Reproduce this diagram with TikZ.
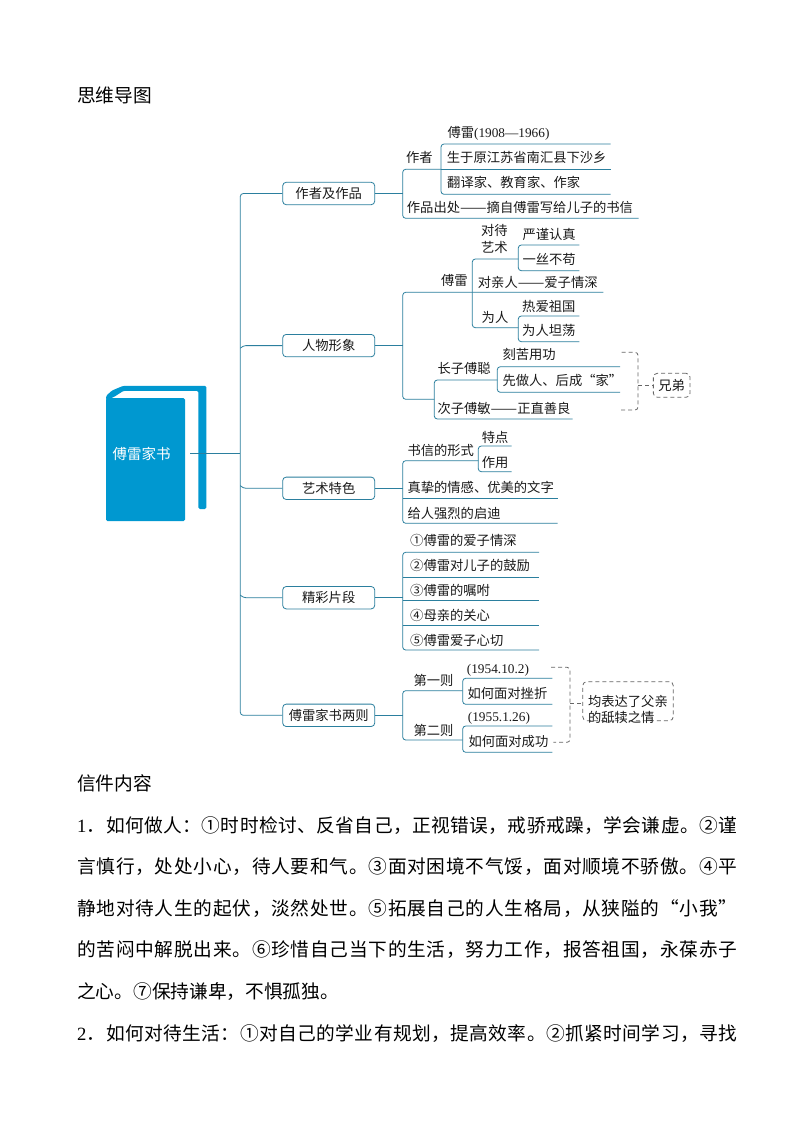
\documentclass[tikz,border=0pt]{standalone}
\usepackage{fontspec}
\setmainfont{Noto Sans CJK SC}
\newfontfamily\latf{Liberation Serif}
\definecolor{lnc}{HTML}{2B7F9E}
\definecolor{bookc}{HTML}{0098D0}
\definecolor{dashc}{HTML}{666666}
\definecolor{txtc}{HTML}{1A1A1A}
\def\dgone{\mbox{\latf 1}}
\def\dgtwo{\mbox{\latf 2}}
\newcommand\longdash{\resizebox{26.6pt}{\height}{——}}
\makeatletter
\newcommand\spreadline[1]{\makebox[660pt][s]{\@tfor\spx:=#1\do{\spx\hfil}\unskip}}
\makeatother
\tikzset{
  conn/.style={draw=lnc,line width=0.8pt,rounded corners=3pt},
  branchbox/.style={draw=lnc,line width=0.8pt,rounded corners=3.5pt,fill=white,minimum width=92pt,minimum height=22.4pt,inner sep=0pt,text=txtc,font=\fontsize{13.3}{16}\selectfont},
  lbl/.style={anchor=west,inner sep=0pt,text=txtc,text height=11.5pt,text depth=1.5pt,font=\fontsize{13.3}{16}\selectfont},
  clbl/.style={lbl,anchor=center},
  dashl/.style={draw=dashc,line width=0.8pt,dashed,dash pattern=on 4pt off 3pt,rounded corners=3pt},
  dashbox/.style={dashl,rounded corners=4pt,fill=white,inner sep=0pt,text=txtc,font=\fontsize{13.3}{16}\selectfont},
  body/.style={anchor=west,inner sep=0pt,text=black,text height=16pt,text depth=2pt,font=\fontsize{18.7}{22}\selectfont},
}
\begin{document}
\begin{tikzpicture}[x=1pt,y=-1pt]
\useasboundingbox (0,0) rectangle (794,1123);
\fill[white] (0,0) rectangle (794,1123);
\node[body] (title) at (77,96) {思维导图};

% book
\fill[bookc,rounded corners=1.5pt] (106,400) -- (106,396) -- (112,390.5) -- (123.3,385.8) -- (206.3,385.8) -- (206.3,509) -- (198.3,509) -- (198.3,390.8) -- (123.5,390.8) -- (114,397) -- cycle;
\fill[bookc,rounded corners=1.5pt] (106,398.2) -- (185,398.2) -- (185,521) -- (106,521) -- cycle;
\node[inner sep=0pt,text=white,font=\fontsize{14.5}{17}\selectfont] (book) at (141.7,454) {傅雷家书};
\coordinate (bookend) at (190,453.3);

% branch boxes
\node[branchbox] (b1) at (328.7,193.5) {作者及作品};
\node[branchbox] (b2) at (328.7,345.6) {人物形象};
\node[branchbox] (b3) at (328.7,488.3) {艺术特色};
\node[branchbox] (b4) at (328.7,597.7) {精彩片段};
\node[branchbox] (b5) at (328.7,715.3) {傅雷家书两则};

% trunk
\coordinate (tr) at (240.3,453.3);
\draw[conn] (bookend) -- (tr);
\draw[conn] (b1.west) -- (240.3,193.5) -- (240.3,715.3) -- (b5.west);
\draw[conn] (b2.west) -- (243,345.6) -- (240.3,348.3);
\draw[conn] (b3.west) -- (243,488.3) -- (240.3,485.6);
\draw[conn] (b4.west) -- (243,597.7) -- (240.3,595);

% branch 1
\draw[conn] (b1.east) -- (402.7,193.5);
\draw[conn] (441,169.3) -- (402.7,169.3) -- (402.7,218.3) -- (638.7,218.3);
\draw[conn] (610.7,144) -- (441,144) -- (441,194.3) -- (610.7,194.3);
\draw[conn] (441,169.3) -- (610.7,169.3);
\node[lbl] (n1a) at (447.3,132.7) {傅雷{\latf (1908—1966)}};
\node[clbl] (n1) at (419.3,157.7) {作者};
\node[lbl] (n1b) at (446.7,157.7) {生于原江苏省南汇县下沙乡};
\node[lbl] (n1c) at (447,182.3) {翻译家、教育家、作家};
\node[lbl] (n1d) at (406.7,207.3) {作品出处\longdash 摘自傅雷写给儿子的书信};

% branch 2
\draw[conn] (b2.east) -- (402.7,345.6);
\draw[conn] (603.3,292.3) -- (402.7,292.3) -- (402.7,399.3) -- (434.3,399.3);
\draw[conn] (518.3,259) -- (472.3,259) -- (472.3,327.7) -- (518.3,327.7);
\draw[conn] (579.3,245) -- (518.3,245) -- (518.3,270.7) -- (579.3,270.7);
\draw[conn] (579.3,316) -- (518.3,316) -- (518.3,341.7) -- (579.3,341.7);
\draw[conn] (497.3,380) -- (434.3,380) -- (434.3,419) -- (572.7,419);
\draw[conn] (620,366.7) -- (497.3,366.7) -- (497.3,392.3) -- (620,392.3);
\node[clbl] (n2a) at (494.3,230.7) {对待};
\node[clbl] (n2b) at (494.3,247.3) {艺术};
\node[clbl] (n2c) at (454.3,280.7) {傅雷};
\node[lbl] (n2d) at (477.7,282.7) {对亲人\longdash 爱子情深};
\node[lbl] (n2e) at (522.3,235) {严谨认真};
\node[lbl] (n2f) at (522.3,259.3) {一丝不苟};
\node[clbl] (n2g) at (495,317.7) {为人};
\node[lbl] (n2h) at (522,306) {热爱祖国};
\node[lbl] (n2i) at (522,330.7) {为人坦荡};
\node[lbl] (n2j) at (437.3,368.3) {长子傅聪};
\node[lbl] (n2k) at (502.3,354.3) {刻苦用功};
\node[lbl] (n2l) at (502.3,380) {先做人、后成“家”};
\node[lbl] (n2m) at (437.3,408.3) {次子傅敏\longdash 正直善良};
\node[dashbox,minimum width=36.7pt,minimum height=24pt] (xd) at (671.7,385.3) {兄弟};
\draw[dashl] (621.7,352.3) -- (638,352.3) -- (638,410) -- (620,410);
\draw[dashl] (638,385.3) -- (xd.west);

% branch 3
\draw[conn] (b3.east) -- (402.7,488.3);
\draw[conn] (478.3,460.7) -- (402.7,460.7) -- (402.7,523.3) -- (557.7,523.3);
\draw[conn] (402.7,498.3) -- (557.7,498.3);
\draw[conn] (511.7,446) -- (478.3,446) -- (478.3,471.7) -- (511.7,471.7);
\node[lbl] (n3a) at (407.3,450) {书信的形式};
\node[lbl] (n3b) at (481.7,437.3) {特点};
\node[lbl] (n3c) at (481.7,462.3) {作用};
\node[lbl] (n3d) at (407.3,487.7) {真挚的情感、优美的文字};
\node[lbl] (n3e) at (407.3,513.3) {给人强烈的启迪};

% branch 4
\draw[conn] (b4.east) -- (402.7,597.7);
\draw[conn] (539,552.3) -- (402.7,552.3) -- (402.7,650) -- (539,650);
\draw[conn] (402.7,577.3) -- (539,577.3);
\draw[conn] (402.7,600) -- (539,600);
\draw[conn] (402.7,625.7) -- (539,625.7);
\node[lbl] (n4a) at (410,540.7) {①傅雷的爱子情深};
\node[lbl] (n4b) at (410,565.3) {②傅雷对儿子的鼓励};
\node[lbl] (n4c) at (410,590.7) {③傅雷的嘱咐};
\node[lbl] (n4d) at (410,615.7) {④母亲的关心};
\node[lbl] (n4e) at (410,640) {⑤傅雷爱子心切};

% branch 5
\draw[conn] (b5.east) -- (402.7,715.3);
\draw[conn] (462.7,690.7) -- (402.7,690.7) -- (402.7,740) -- (462.7,740);
\draw[conn] (552.3,678.3) -- (462.7,678.3) -- (462.7,704.3) -- (552.3,704.3);
\draw[conn] (552.3,726) -- (462.7,726) -- (462.7,752.3) -- (552.3,752.3);
\node[lbl] (n5a) at (413.3,680.7) {第一则};
\node[lbl] (n5b) at (413.3,730) {第二则};
\node[lbl] (n5c) at (466.7,668.3) {\latf (1954.10.2)};
\node[lbl] (n5d) at (467.3,693.3) {如何面对挫折};
\node[lbl] (n5e) at (467.7,716) {\latf (1955.1.26)};
\node[lbl] (n5f) at (468.3,741) {如何面对成功};
\node[dashbox,minimum width=90.6pt,minimum height=39pt,align=left,text width=80pt,text depth=0pt,font=\fontsize{13.3}{16}\selectfont] (jb) at (628,701.2) {均表达了父亲\\的舐犊之情};
\draw[dashl] (551,667.3) -- (570,667.3) -- (570,742.3) -- (553.3,742.3);
\draw[dashl] (570,703.3) -- (jb.west |- 0,703.3);

% body text
\node[body] (h2) at (77,783.5) {信件内容};
\node[body] (l1) at (77,825) {\spreadline{\dgone ．如何做人：①时时检讨、反省自己，正视错误，戒骄戒躁，学会谦虚。②谨}};
\node[body] (l2) at (77,866.6) {\spreadline{言慎行，处处小心，待人要和气。③面对困境不气馁，面对顺境不骄傲。④平}};
\node[body] (l3) at (77,908.2) {\spreadline{静地对待人生的起伏，淡然处世。⑤拓展自己的人生格局，从狭隘的“小我”}};
\node[body] (l4) at (77,949.8) {\spreadline{的苦闷中解脱出来。⑥珍惜自己当下的生活，努力工作，报答祖国，永葆赤子}};
\node[body] (l5) at (77,991.4) {之心。⑦保持谦卑，不惧孤独。};
\node[body] (l6) at (77,1033.2) {\spreadline{\dgtwo ．如何对待生活：①对自己的学业有规划，提高效率。②抓紧时间学习，寻找}};
\end{tikzpicture}
\end{document}
